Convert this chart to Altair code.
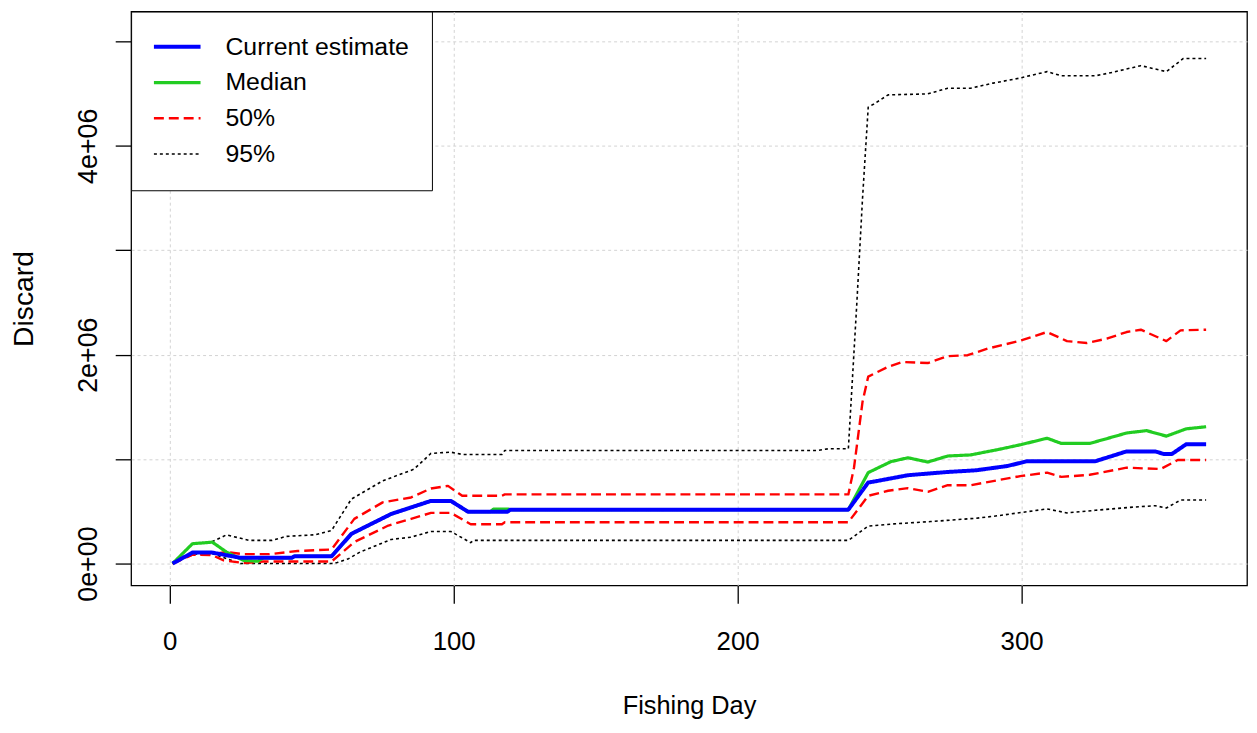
import altair as alt
import pandas as pd

FONT = "Liberation Sans, Arial, Helvetica, sans-serif"

# ---- legend / series styling ----
series_names = ["Current estimate", "Median", "50%", "95%"]
series_colors = ["#0000ff", "#22cc22", "#ff0000", "#000000"]
series_dashes = [[1, 0], [1, 0], [10, 5], [3, 3]]
series_widths = [4, 1.6, 1.6, 2]
draw_order = ["95%", "50%", "Median", "Current estimate"]

# ---- axes ----
x_ticks = [0, 100, 200, 300]
y_ticks = [0, 1000000, 2000000, 3000000, 4000000, 5000000]
y_tick_labels = ["0e+00", "", "2e+06", "", "4e+06", ""]

# ---- data (values in millions) ----
current_days = [1, 8, 15, 20, 25, 43, 44, 57, 64, 78, 92, 99, 105, 119, 120, 239, 246, 249,
                260, 274, 284, 295, 302, 326, 337, 347, 350, 353, 358, 365]
current_vals = [0, 0.105, 0.105, 0.08, 0.055, 0.055, 0.07, 0.07, 0.285, 0.475, 0.60, 0.60,
                0.497, 0.497, 0.516, 0.516, 0.776, 0.79, 0.846, 0.877, 0.893, 0.934, 0.98,
                0.98, 1.074, 1.074, 1.05, 1.05, 1.143, 1.143]

median_days = [1, 8, 15, 20, 26, 31, 33, 43, 44, 57, 64, 78, 92, 99, 105, 113, 114, 119, 120,
               239, 246, 254, 260, 267, 274, 282, 292, 300, 309, 314, 324, 337, 344, 351, 358, 365]
median_vals = [0, 0.19, 0.205, 0.11, 0.03, 0.022, 0.055, 0.055, 0.07, 0.07, 0.285, 0.475, 0.60,
               0.60, 0.497, 0.497, 0.522, 0.522, 0.516, 0.516, 0.871, 0.976, 1.013, 0.972, 1.03,
               1.04, 1.093, 1.14, 1.20, 1.15, 1.15, 1.25, 1.273, 1.22, 1.29, 1.31]

p50_up_days = [1, 8, 15, 20, 26, 35, 45, 57, 65, 75, 85, 92, 98, 103, 117, 118, 239, 241, 244,
               246, 253, 258, 267, 274, 281, 288, 299, 309, 316, 323, 330, 337, 342, 351, 356, 365]
p50_up_vals = [0, 0.085, 0.09, 0.11, 0.09, 0.09, 0.12, 0.135, 0.428, 0.586, 0.633, 0.719, 0.744,
               0.649, 0.649, 0.662, 0.662, 0.92, 1.55, 1.79, 1.884, 1.93, 1.92, 1.986, 1.995,
               2.058, 2.13, 2.217, 2.13, 2.112, 2.153, 2.217, 2.239, 2.13, 2.233, 2.239]

p50_lo_days = [1, 8, 15, 19, 26, 33, 57, 65, 77, 85, 92, 99, 106, 117, 118, 239, 246, 253, 260,
               267, 274, 282, 292, 300, 309, 314, 324, 337, 349, 355, 365]
p50_lo_vals = [0, 0.085, 0.08, 0.03, 0.005, 0.02, 0.02, 0.206, 0.364, 0.428, 0.485, 0.485, 0.377,
               0.377, 0.396, 0.396, 0.649, 0.697, 0.722, 0.687, 0.75, 0.75, 0.80, 0.839, 0.871,
               0.83, 0.85, 0.918, 0.905, 0.991, 0.991]

p95_up_days = [1, 8, 15, 20, 28, 36, 41, 51, 57, 64, 75, 86, 92, 99, 103, 117, 118, 228, 232,
               239, 242, 244, 246, 248, 253, 267, 274, 282, 290, 299, 309, 314, 326, 332, 342,
               351, 357, 365]
p95_up_vals = [0, 0.19, 0.21, 0.275, 0.222, 0.222, 0.26, 0.275, 0.317, 0.618, 0.792, 0.903, 1.055,
               1.067, 1.045, 1.045, 1.083, 1.083, 1.099, 1.099, 2.5, 3.5, 4.37, 4.40, 4.487,
               4.497, 4.551, 4.551, 4.60, 4.646, 4.71, 4.67, 4.67, 4.703, 4.767, 4.71, 4.836, 4.836]

p95_lo_days = [1, 8, 15, 20, 25, 57, 59, 63, 67, 78, 85, 92, 99, 106, 107, 239, 246, 255, 268,
               284, 292, 302, 309, 316, 326, 338, 347, 351, 356, 365]
p95_lo_vals = [0, 0.09, 0.095, 0.047, 0, 0, 0.01, 0.047, 0.11, 0.231, 0.253, 0.307, 0.307, 0.20,
               0.222, 0.222, 0.358, 0.38, 0.402, 0.434, 0.459, 0.497, 0.523, 0.485, 0.51, 0.538,
               0.554, 0.532, 0.608, 0.608]

rows = []


def add(series, part, days, vals):
    for d, v in zip(days, vals):
        rows.append({"day": d, "value": v * 1e6, "series": series, "part": part})


add("Current estimate", "mid", current_days, current_vals)
add("Median", "mid", median_days, median_vals)
add("50%", "upper", p50_up_days, p50_up_vals)
add("50%", "lower", p50_lo_days, p50_lo_vals)
add("95%", "upper", p95_up_days, p95_up_vals)
add("95%", "lower", p95_lo_days, p95_lo_vals)
df = pd.DataFrame(rows)

# y label expression built from the tick arrays
expr = "''"
for v, l in reversed(list(zip(y_ticks, y_tick_labels))):
    expr = f"datum.value == {v} ? '{l}' : ({expr})"

x_axis = alt.Axis(
    values=x_ticks, title="Fishing Day", titleFont=FONT, titleFontSize=25.5,
    titleFontWeight="normal", titleColor="black", titleX=562, titleY=129,
    titleBaseline="alphabetic", titleAlign="center",
    domain=False, ticks=True, tickSize=18, tickColor="black", tickWidth=1.3,
    labelFont=FONT, labelFontSize=26, labelColor="black", labelPadding=47,
    labelBaseline="alphabetic", labelFlush=False, labelOverlap=False, format="d",
    grid=True, gridColor="#d3d3d3", gridDash=[3, 3], gridWidth=1,
)
y_axis = alt.Axis(
    values=y_ticks, title="Discard", titleFont=FONT, titleFontSize=28.5,
    titleFontWeight="normal", titleColor="black", titleAngle=270, titleX=-99, titleY=289,
    titleBaseline="alphabetic", titleAlign="center",
    domain=False, ticks=True, tickSize=16, tickColor="black", tickWidth=1.3,
    labelFont=FONT, labelFontSize=27, labelColor="black", labelAngle=270,
    labelAlign="center", labelBaseline="alphabetic", labelPadding=19,
    labelExpr=expr, labelOverlap=False, labelFlush=False,
    grid=True, gridColor="#d3d3d3", gridDash=[3, 3], gridWidth=1,
)

leg = alt.Legend(
    title=None, orient="top-left", offset=0, padding=23, strokeColor="black",
    fillColor="white", rowPadding=10, labelFont=FONT, labelFontSize=25,
    labelColor="black", labelOffset=47, labelLimit=500, symbolSize=245,
    symbolType="M-1.6,0H4.4", symbolOffset=0,
)

base = alt.Chart(df).mark_line(strokeJoin="round", clip=True).encode(
    x=alt.X("day:Q", scale=alt.Scale(domain=[-13.6, 379.4], nice=False, zero=False), axis=x_axis),
    y=alt.Y("value:Q", scale=alt.Scale(domain=[-209000, 5285000], nice=False, zero=False), axis=y_axis),
    color=alt.Color("series:N", scale=alt.Scale(domain=series_names, range=series_colors), legend=leg),
    strokeDash=alt.StrokeDash("series:N", scale=alt.Scale(domain=series_names, range=series_dashes), legend=leg),
    strokeWidth=alt.StrokeWidth("series:N", scale=alt.Scale(domain=series_names, range=series_widths), legend=leg),
    detail="part:N",
)

layers = [base.transform_filter(alt.datum.series == s) for s in draw_order]

chart = alt.layer(*layers).properties(
    width=1124, height=578,
    autosize=alt.AutoSizeParams(type="none"),
    padding={"left": 124, "top": 1, "right": 2, "bottom": 134},
    background="white",
).configure_view(stroke="black", strokeWidth=1.3)

chart.save("out.html", embed_options={"renderer": "svg", "actions": False})
